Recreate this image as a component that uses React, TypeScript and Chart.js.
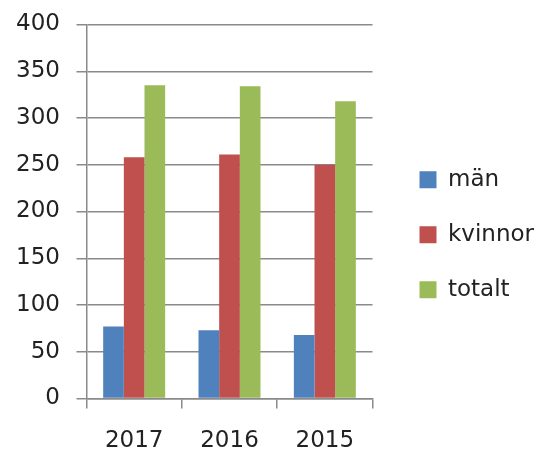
import React, { useEffect, useRef } from 'react';
import { Chart, registerables } from 'chart.js';

Chart.register(...registerables);

const categories = ['2017', '2016', '2015'];
const manValues = [77, 73, 68];
const kvinnorValues = [258, 261, 250];
const totaltValues = [335, 334, 318];
const seriesNames = ['män', 'kvinnor', 'totalt'];
const yMin = 0;
const yMax = 400;
const yStep = 50;

const FONT = "'DejaVu Sans', Verdana, sans-serif";
const GRID = '#8a8a8a';
const TEXT = '#222222';

const legendShift = {
  id: 'legendShift',
  afterLayout(chart: any) {
    const lg = chart.legend;
    if (!lg) return;
    const dx = 15;
    const dy = -2.5;
    lg.left += dx;
    lg.right += dx;
    lg.top += dy;
    lg.bottom += dy;
  },
};

export default function App() {
  const ref = useRef<HTMLCanvasElement | null>(null);

  useEffect(() => {
    if (!ref.current) return;
    const chart = new Chart(ref.current, {
      type: 'bar',
      data: {
        labels: categories,
        datasets: [
          { label: seriesNames[0], data: manValues, backgroundColor: '#4F81BD' },
          { label: seriesNames[1], data: kvinnorValues, backgroundColor: '#C0504D' },
          { label: seriesNames[2], data: totaltValues, backgroundColor: '#9BBB59' },
        ],
      },
      options: {
        animation: false,
        responsive: true,
        maintainAspectRatio: false,
        layout: { padding: { top: 24.5, right: 8, bottom: 0, left: 0 } },
        datasets: { bar: { categoryPercentage: 0.65, barPercentage: 1 } },
        plugins: {
          legend: {
            position: 'right',
            maxWidth: 160,
            labels: {
              boxWidth: 17,
              boxHeight: 17,
              padding: 32,
              color: TEXT,
              font: { family: FONT, size: 23 },
            },
          },
          tooltip: { enabled: false },
        },
        scales: {
          x: {
            grid: {
              display: true,
              drawOnChartArea: false,
              drawTicks: true,
              tickLength: 10,
              color: GRID,
              lineWidth: 1.5,
              offset: true,
            },
            border: { display: true, color: GRID, width: 1.5 },
            ticks: { color: TEXT, font: { family: FONT, size: 23 }, padding: 18.5 },
            afterFit: (s: any) => {
              s.height = 51.5;
              s.paddingLeft = 0;
              s.paddingRight = 0;
            },
          },
          y: {
            min: yMin,
            max: yMax,
            ticks: { stepSize: yStep, color: TEXT, font: { family: FONT, size: 23 }, padding: 16.5 },
            grid: { color: GRID, lineWidth: 1.5, tickLength: 10, drawTicks: true },
            border: { display: true, color: GRID, width: 1.5 },
            afterFit: (s: any) => {
              s.width = 86.5;
              s.paddingTop = 0;
              s.paddingBottom = 0;
            },
          },
        },
      },
      plugins: [legendShift],
    });
    return () => chart.destroy();
  }, []);

  return (
    <div style={{ position: 'absolute', left: 0, top: 0, width: 537, height: 450, background: '#fff' }}>
      <canvas ref={ref} />
    </div>
  );
}
